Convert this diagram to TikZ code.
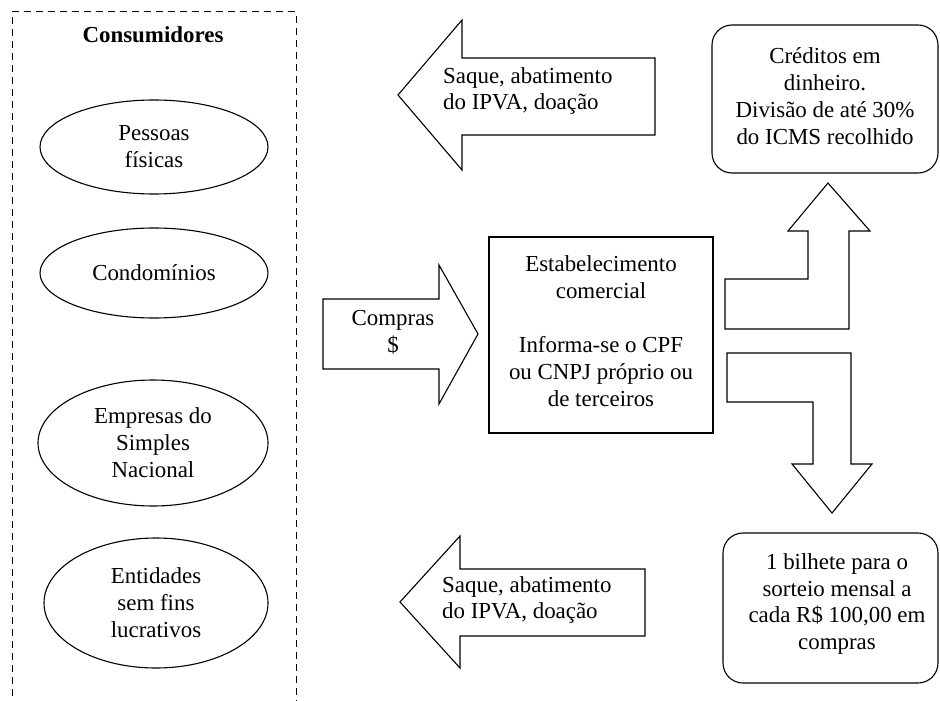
\documentclass[tikz,border=0pt]{standalone}
\usepackage{fontspec}
\setmainfont{Liberation Serif}
\usetikzlibrary{shapes.geometric}
\begin{document}
\begin{tikzpicture}[x=1bp,y=-1bp,
  txt/.style={font=\fontsize{23}{27}\selectfont, align=center, inner sep=0pt},
  ltxt/.style={font=\fontsize{23}{27}\selectfont, align=left, inner sep=0pt, anchor=west},
  blockarrow/.style={draw, line width=1.1bp, line join=miter},
  oval/.style={draw, ellipse, line width=1.1bp, inner sep=0pt,
    font=\fontsize{23}{27}\selectfont, align=center},
  roundbox/.style={draw, rounded corners=20bp, line width=1.1bp,
    minimum width=#1, inner sep=0pt},
  plainbox/.style={draw, line width=1.1bp, inner sep=0pt},
  frame/.style={draw, dashed, dash pattern=on 7bp off 5bp, line width=1bp}]
\useasboundingbox (0,0) rectangle (940,701);
\clip (0,0) rectangle (940,701);

% consumer group (open at the bottom)
\draw[frame] (12,720) -- (12,12) -- (296,12) -- (296,720);
\node[txt, font=\fontsize{23}{27}\selectfont\bfseries] (title) at (153,35) {Consumidores};

\node[oval, minimum width=228bp, minimum height=94bp] (pf) at (154,147) {Pessoas\\físicas};
\node[oval, minimum width=228bp, minimum height=90bp] (cond) at (154,273) {Condomínios};
\node[oval, minimum width=230bp, minimum height=126bp] (simples) at (153,443) {Empresas do\\Simples\\Nacional};
\node[oval, minimum width=224bp, minimum height=130bp] (entid) at (156,603) {Entidades\\sem fins\\lucrativos};

% purchases arrow
\draw[blockarrow] (323,299) -- (439,299) -- (439,265) -- (478,334) -- (439,404)
  -- (439,369) -- (323,369) -- cycle;
\node[txt] (compras) at (393,332) {Compras\\\$};

% store
\node[plainbox, minimum width=224bp, minimum height=196bp] (loja) at (601,335) {};
\node[txt] (lojatxt) at (601,331) {Estabelecimento\\comercial\\[27bp]Informa-se o CPF\\ou CNPJ próprio ou\\de terceiros};

% upper bent arrow
\draw[blockarrow] (725,329) -- (849,329) -- (849,231) -- (870,231) -- (828,183)
  -- (788,231) -- (808,231) -- (808,279) -- (725,279) -- cycle;
% lower bent arrow
\draw[blockarrow] (727,353) -- (851,353) -- (851,464) -- (872,464) -- (832,513)
  -- (792,464) -- (813,464) -- (813,402) -- (727,402) -- cycle;

% credits box
\node[roundbox=226bp, minimum height=148bp] (cred) at (825,99) {};
\node[txt] (credtxt) at (825,96) {Créditos em\\dinheiro.\\Divisão de até 30\%\\do ICMS recolhido};

% lottery box
\node[roundbox=215bp, minimum height=150bp] (sorteio) at (830.5,608) {};
\node[txt] (sorteiotxt) at (837,604) {1 bilhete para o\\sorteio mensal a\\cada R\$ 100,00 em\\compras};

% upper return arrow
\draw[blockarrow] (655,58) -- (462,58) -- (462,20) -- (398,95) -- (462,170)
  -- (462,135) -- (655,135) -- cycle;
\node[ltxt] (saque1) at (443,91) {Saque, abatimento\\do IPVA, doação};

% lower return arrow
\draw[blockarrow] (645,569) -- (460,569) -- (460,536) -- (400,602) -- (460,668)
  -- (460,636) -- (645,636) -- cycle;
\node[ltxt] (saque2) at (442,600) {Saque, abatimento\\do IPVA, doação};
\end{tikzpicture}
\end{document}
